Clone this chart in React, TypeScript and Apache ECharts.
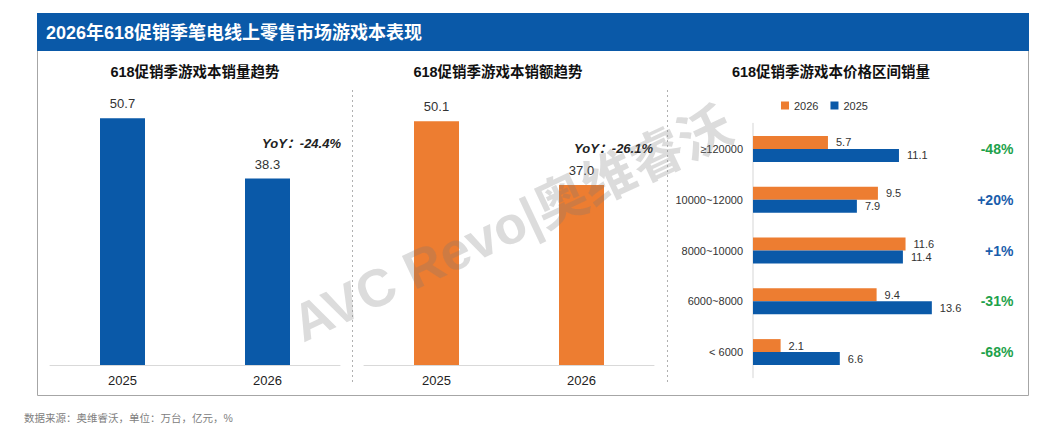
import React, { useEffect, useRef } from 'react';
import * as echarts from 'echarts';

const years = ['2025', '2026'];
const salesVolume = [50.7, 38.3];
const salesValue = [50.1, 37.0];
const volumeYoY = 'YoY：-24.4%';
const valueYoY = 'YoY：-26.1%';
const priceBands = ['≥120000', '10000~12000', '8000~10000', '6000~8000', '< 6000'];
const band2026 = [5.7, 9.5, 11.6, 9.4, 2.1];
const band2025 = [11.1, 7.9, 11.4, 13.6, 6.6];
const bandChange = ['-48%', '+20%', '+1%', '-31%', '-68%'];
const seriesNames = ['2026', '2025'];

const mainTitle = '2026年618促销季笔电线上零售市场游戏本表现';
const subTitles = ['618促销季游戏本销量趋势', '618促销季游戏本销额趋势', '618促销季游戏本价格区间销量'];
const footer = '数据来源：奥维睿沃，单位：万台，亿元，%';
const watermark = 'AVC Revo|奥维睿沃';

const BLUE = '#0a59a8';
const ORANGE = '#ed7d31';
const FONT = '"Liberation Sans", Arial, "Noto Sans CJK SC", sans-serif';

function txt(x: number, y: number, text: string, s: any, extra: any = {}) {
  return {
    type: 'text',
    x,
    y,
    ...extra,
    style: {
      text,
      fontFamily: FONT,
      align: s.align || 'left',
      textAlign: s.align || 'left',
      verticalAlign: 'middle',
      textVerticalAlign: 'middle',
      ...s,
    },
  };
}

export default function App() {
  const ref = useRef<HTMLDivElement>(null);
  useEffect(() => {
    if (!ref.current) return;
    const chart = echarts.init(ref.current, undefined, { renderer: 'svg' });
    const catX = (gridIndex: number) => ({
      gridIndex,
      type: 'category',
      data: years,
      axisLine: { lineStyle: { color: '#d9d9d9', width: 1 } },
      axisTick: { show: false },
      axisLabel: { fontSize: 13, color: '#222', margin: 9, fontFamily: FONT },
    });
    const option: any = {
      animation: false,
      backgroundColor: '#ffffff',
      textStyle: { fontFamily: FONT },
      legend: {
        data: seriesNames,
        left: 776,
        top: 95,
        itemWidth: 8,
        itemHeight: 8,
        itemGap: 12,
        icon: 'rect',
        textStyle: { fontSize: 11, color: '#333', fontFamily: FONT },
      },
      grid: [
        { left: 50, top: 73, width: 290, height: 292 },
        { left: 364, top: 73, width: 290, height: 292 },
        { left: 753, top: 123.5, width: 210.4, height: 254 },
      ],
      xAxis: [
        catX(0),
        catX(1),
        { gridIndex: 2, type: 'value', min: 0, max: 16, show: false },
      ],
      yAxis: [
        { gridIndex: 0, type: 'value', min: 0, max: 60, show: false },
        { gridIndex: 1, type: 'value', min: 0, max: 60, show: false },
        {
          gridIndex: 2,
          type: 'category',
          data: priceBands,
          inverse: true,
          axisLine: { onZero: false, lineStyle: { color: '#e3e3e3', width: 1.5 } },
          axisTick: { show: false },
          axisLabel: { fontSize: 11, color: '#333', margin: 10, fontFamily: FONT },
        },
        {
          gridIndex: 2,
          type: 'category',
          position: 'right',
          data: bandChange,
          inverse: true,
          axisLine: { show: false, onZero: false },
          axisTick: { show: false },
          axisLabel: {
            align: 'right',
            margin: 50,
            formatter: (v: string) => (v.startsWith('-') ? `{neg|${v}}` : `{pos|${v}}`),
            rich: {
              neg: { color: '#1ea24b', fontSize: 14, fontWeight: 'bold', fontFamily: FONT },
              pos: { color: '#1a5dab', fontSize: 14, fontWeight: 'bold', fontFamily: FONT },
            },
          },
        },
      ],
      series: [
        {
          type: 'bar',
          xAxisIndex: 0,
          yAxisIndex: 0,
          data: salesVolume,
          barWidth: 45,
          itemStyle: { color: BLUE },
          label: { show: true, position: 'top', distance: 8, fontSize: 13, color: '#333', fontFamily: FONT },
        },
        {
          type: 'bar',
          xAxisIndex: 1,
          yAxisIndex: 1,
          data: salesValue,
          barWidth: 45,
          itemStyle: { color: ORANGE },
          label: {
            show: true,
            position: 'top',
            distance: 8,
            fontSize: 13,
            color: '#333',
            fontFamily: FONT,
            formatter: (p: any) => Number(p.value).toFixed(1),
          },
        },
        {
          name: seriesNames[0],
          type: 'bar',
          xAxisIndex: 2,
          yAxisIndex: 2,
          data: band2026,
          barWidth: 13,
          barGap: '0%',
          itemStyle: { color: ORANGE },
          label: { show: true, position: 'right', distance: 8, fontSize: 11, color: '#333', fontFamily: FONT },
        },
        {
          name: seriesNames[1],
          type: 'bar',
          xAxisIndex: 2,
          yAxisIndex: 2,
          data: band2025,
          barWidth: 13,
          barGap: '0%',
          itemStyle: { color: BLUE },
          label: { show: true, position: 'right', distance: 8, fontSize: 11, color: '#333', fontFamily: FONT },
        },
      ],
      graphic: [
        {
          type: 'rect',
          shape: { x: 37.5, y: 13.5, width: 991, height: 382 },
          style: { fill: 'none', stroke: '#a6a6a6', lineWidth: 1 },
          z: 0,
        },
        {
          type: 'rect',
          shape: { x: 37, y: 13, width: 992, height: 38 },
          style: { fill: BLUE },
          z: 1,
        },
        txt(46, 32.5, mainTitle, { fill: '#ffffff', fontSize: 18, fontWeight: 'bold' }, { z: 2 }),
        txt(195, 72, subTitles[0], { fill: '#111', fontSize: 14.5, fontWeight: 'bold', align: 'center' }),
        txt(498, 72, subTitles[1], { fill: '#111', fontSize: 14.5, fontWeight: 'bold', align: 'center' }),
        txt(831, 72, subTitles[2], { fill: '#111', fontSize: 14.5, fontWeight: 'bold', align: 'center' }),
        txt(341, 143, volumeYoY, { fill: '#222', fontSize: 13, fontWeight: 'bold', fontStyle: 'italic', align: 'right' }),
        txt(653, 148, valueYoY, { fill: '#222', fontSize: 13, fontWeight: 'bold', fontStyle: 'italic', align: 'right' }),
        {
          type: 'line',
          shape: { x1: 352.5, y1: 90, x2: 352.5, y2: 383 },
          style: { stroke: '#b0b0b0', lineWidth: 1, lineDash: [2, 3] },
        },
        {
          type: 'line',
          shape: { x1: 667.5, y1: 90, x2: 667.5, y2: 383 },
          style: { stroke: '#b0b0b0', lineWidth: 1, lineDash: [2, 3] },
        },
        txt(24, 418, footer, { fill: '#808080', fontSize: 10.5 }),
        txt(
          512,
          224,
          watermark,
          { fill: 'rgba(120,120,120,0.26)', fontSize: 53, fontWeight: 'bold', align: 'center' },
          { rotation: 0.44, z: 100, silent: true }
        ),
      ],
    };
    chart.setOption(option);
    return () => chart.dispose();
  }, []);
  return (
    <div
      ref={ref}
      style={{ position: 'absolute', left: 0, top: 0, width: 1046, height: 434, background: '#fff' }}
    />
  );
}
